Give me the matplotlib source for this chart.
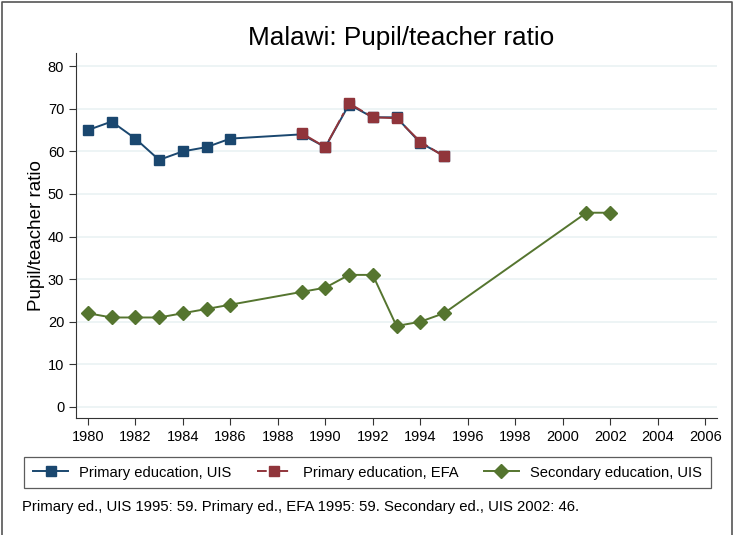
import matplotlib
matplotlib.use('Agg')
import matplotlib.pyplot as plt
from matplotlib.lines import Line2D

plt.rcParams['font.family'] = ['Liberation Sans', 'DejaVu Sans']

# data
years_uis = [1980, 1981, 1982, 1983, 1984, 1985, 1986, 1989, 1990, 1991, 1992, 1993, 1994, 1995]
primary_uis = [65, 67, 63, 58, 60, 61, 63, 64, 61, 71, 68, 68, 62, 59]

years_efa = [1989, 1990, 1991, 1992, 1993, 1994, 1995]
primary_efa = [64.3, 61, 71.3, 68, 67.8, 62.3, 58.8]

years_sec = [1980, 1981, 1982, 1983, 1984, 1985, 1986, 1989, 1990, 1991, 1992, 1993, 1994, 1995, 2001, 2002]
secondary_uis = [22, 21, 21, 21, 22, 23, 24, 27, 28, 31, 31, 19, 20, 22, 45.6, 45.6]

title = 'Malawi: Pupil/teacher ratio'
note = 'Primary ed., UIS 1995: 59. Primary ed., EFA 1995: 59. Secondary ed., UIS 2002: 46.'

blue = '#1a476f'
red = '#90353b'
green = '#55752f'

fig = plt.figure(figsize=(7.36, 5.35), dpi=100)
ax = fig.add_axes([76/736, 1-418/535, 641/736, 365/535])

ax.plot(years_uis, primary_uis, color=blue, marker='s', markersize=6.8, lw=1.4,
        label='Primary education, UIS')
ax.plot(years_efa, primary_efa, color=red, marker='s', markersize=6.8, lw=1.4,
        ls=(0, (12, 2, 2, 2)), label='Primary education, EFA')
ax.plot(years_sec, secondary_uis, color=green, marker='D', markersize=6.8, lw=1.4,
        label='Secondary education, UIS')

ax.set_xlim(1979.5, 2006.5)
ax.set_ylim(-2.6, 83.1)
ax.set_xticks(range(1980, 2007, 2))
ax.set_yticks(range(0, 81, 10))
ax.tick_params(direction='out', length=5, width=0.8, labelsize=10.5, color='#333333')
ax.yaxis.grid(True, color='#eaf2f3', lw=1.2)
ax.set_axisbelow(True)
for s in ['top', 'right']:
    ax.spines[s].set_visible(False)
for s in ['left', 'bottom']:
    ax.spines[s].set_color('#333333')
ax.set_ylabel('Pupil/teacher ratio', fontsize=13.5, labelpad=2)

fig.text(401/736, 1-38/535, title, ha='center', va='center', fontsize=18.8)

handles = [
    Line2D([], [], color=blue, marker='s', markersize=6.8, lw=1.4),
    Line2D([], [], color=red, marker='s', markersize=6.8, lw=1.4, ls=(0, (5, 2, 2, 2))),
    Line2D([], [], color=green, marker='D', markersize=6.8, lw=1.4),
]
labels = ['Primary education, UIS', 'Primary education, EFA', 'Secondary education, UIS']
leg = fig.legend(handles, labels, loc='center', ncol=3,
                 bbox_to_anchor=(367.5/736, 1-472.5/535),
                 fancybox=False, edgecolor='#333333', fontsize=10.6,
                 handlelength=2.4, handletextpad=0.75, borderpad=0.6,
                 borderaxespad=0, columnspacing=1.7)
leg.get_frame().set_linewidth(0.9)

fig.text(22/736, 1-507/535, note, ha='left', va='center', fontsize=10.7)

# outer frame
fig.add_artist(Line2D([2/736, 2/736, 732/736, 732/736], [0, 1-2/535, 1-2/535, 0],
                      transform=fig.transFigure, color='#555555', lw=1.2))

fig.savefig('out.png', dpi=100)
